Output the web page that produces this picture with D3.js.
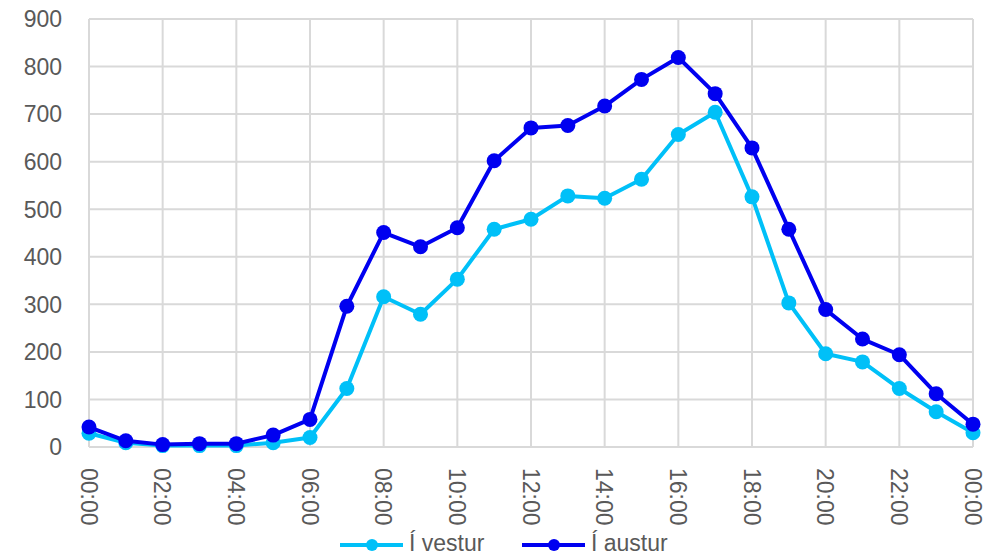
<!DOCTYPE html>
<html>
<head>
<meta charset="utf-8">
<script src="https://cdn.jsdelivr.net/npm/d3@7"></script>
<style>
  body { margin: 0; background: #fff; }
  text { font-family: "Liberation Sans", Arial, sans-serif; fill: #595959; }
</style>
</head>
<body>
<div id="chart"></div>
<script>
// hours 00:00 .. 00:00 next day
const hours = d3.range(25).map(h => String(h % 24).padStart(2, '0') + ':00');
const yTicks = [0, 100, 200, 300, 400, 500, 600, 700, 800, 900];

const seriesNames = ['Í vestur', 'Í austur'];
const vestur = [29, 9, 3, 3, 3, 9, 20, 123, 316, 279, 353, 458, 479, 528, 523, 563, 657, 704, 526, 303, 196, 179, 123, 74, 30];
const austur = [42, 13, 5, 7, 7, 25, 58, 296, 451, 421, 461, 602, 671, 676, 717, 773, 819, 743, 629, 458, 289, 227, 194, 112, 48];

const render = () => {
  const width = 995, height = 557;
  const margin = { top: 19, left: 89, right: 22, bottom: 110 };
  const colors = ['#00C0F8', '#0000F0'];

  const svg = d3.select('#chart')
    .append('svg')
    .attr('width', width)
    .attr('height', height);

  const x = d3.scalePoint()
    .domain(d3.range(25))
    .range([margin.left, width - margin.right]);

  const y = d3.scaleLinear()
    .domain([0, 900])
    .range([height - margin.bottom, margin.top]);

  // grid
  svg.append('g')
    .selectAll('line')
    .data(yTicks)
    .enter().append('line')
    .attr('x1', margin.left).attr('x2', width - margin.right)
    .attr('y1', d => y(d)).attr('y2', d => y(d))
    .attr('stroke', '#d9d9d9').attr('stroke-width', 2);

  svg.append('g')
    .selectAll('line')
    .data(d3.range(0, 25, 2))
    .enter().append('line')
    .attr('x1', d => x(d)).attr('x2', d => x(d))
    .attr('y1', y(0)).attr('y2', y(900))
    .attr('stroke', '#d9d9d9').attr('stroke-width', 2);

  // y axis labels
  svg.append('g')
    .selectAll('text')
    .data(yTicks)
    .enter().append('text')
    .attr('x', 62)
    .attr('y', d => y(d))
    .attr('dy', '0.36em')
    .attr('text-anchor', 'end')
    .style('font-size', '23px')
    .text(d => d);

  // x axis labels, rotated
  svg.append('g')
    .selectAll('text')
    .data(d3.range(0, 25, 2))
    .enter().append('text')
    .attr('transform', d => `translate(${x(d)}, 468) rotate(90)`)
    .attr('dy', '0.36em')
    .attr('text-anchor', 'start')
    .style('font-size', '23px')
    .text(d => hours[d]);

  // lines
  const line = d3.line()
    .x((d, i) => x(i))
    .y(d => y(d));

  [vestur, austur].forEach((vals, k) => {
    const g = svg.append('g');
    g.append('path')
      .datum(vals)
      .attr('d', line)
      .attr('fill', 'none')
      .attr('stroke', colors[k])
      .attr('stroke-width', 4)
      .attr('stroke-linejoin', 'round');
    g.selectAll('circle')
      .data(vals)
      .enter().append('circle')
      .attr('cx', (d, i) => x(i))
      .attr('cy', d => y(d))
      .attr('r', 7.5)
      .attr('fill', colors[k]);
  });

  // legend
  const legendX = [340, 522];
  const legend = svg.append('g')
    .selectAll('g')
    .data(seriesNames)
    .enter().append('g')
    .attr('transform', (d, i) => `translate(${legendX[i]}, 545)`);
  legend.append('line')
    .attr('x1', 0).attr('x2', 63)
    .attr('stroke', (d, i) => colors[i])
    .attr('stroke-width', 4);
  legend.append('circle')
    .attr('cx', 32).attr('r', 6)
    .attr('fill', (d, i) => colors[i]);
  legend.append('text')
    .attr('x', 69)
    .attr('y', 6)
    .style('font-size', '23px')
    .text(d => d);
};

render();
</script>
</body>
</html>
